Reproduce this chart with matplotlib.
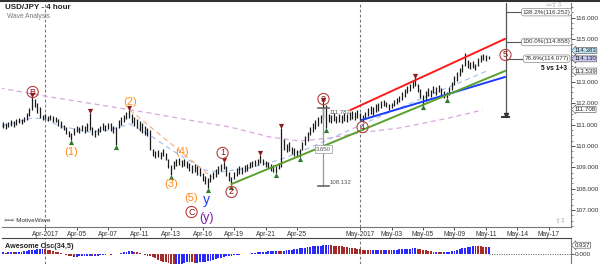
import numpy as np
import matplotlib
matplotlib.use("Agg")
from matplotlib import pyplot as plt

plt.rcParams['font.family'] = ['Liberation Sans', 'DejaVu Sans']

# USD/JPY 4h bars, 6 bars per trading day, day 0 = Apr-03
highs = [
    111.15, 111.10, 111.05, 111.12, 111.20, 111.18, 111.25, 111.30, 111.28, 111.35,
    111.55, 111.75, 112.29, 112.20, 112.00, 111.80, 111.45, 111.50, 111.40, 111.45,
    111.40, 111.35, 111.25, 111.15, 111.00, 110.90, 110.70, 110.60, 110.85, 110.95,
    110.90, 111.00, 110.95, 111.05, 111.54, 110.90, 110.75, 110.85, 110.95, 111.05,
    111.00, 111.08, 111.05, 110.95, 110.90, 111.20, 111.35, 111.45, 111.60, 111.68,
    111.50, 111.35, 111.25, 111.15, 111.05, 110.95, 110.85, 110.75, 109.85, 109.75,
    109.80, 109.70, 109.85, 109.65, 109.40, 109.10, 109.30, 109.40, 109.45, 109.35,
    109.40, 109.30, 109.20, 109.10, 109.15, 109.05, 108.95, 108.75, 108.60, 108.50,
    108.70, 108.80, 108.90, 109.05, 109.15, 109.25, 109.05, 108.80, 108.55, 108.80,
    108.95, 109.05, 109.00, 109.10, 109.15, 109.25, 109.30, 109.35, 109.40, 109.58,
    109.40, 109.30, 109.25, 109.15, 109.10, 109.05, 109.20, 110.84, 110.30, 110.10,
    110.20, 109.95, 109.90, 109.80, 109.85, 110.20, 110.45, 110.65, 110.90, 111.05,
    111.20, 111.35, 111.45, 112.06, 111.90, 111.50, 111.45, 111.55, 111.40, 111.50,
    111.45, 111.55, 111.50, 111.60, 111.65, 111.60, 111.70, 111.55, 111.45, 111.60,
    111.75, 111.85, 111.80, 111.95, 112.00, 112.10, 112.15, 112.05, 111.95, 112.00,
    112.15, 112.25, 112.35, 112.50, 112.65, 112.80, 112.90, 113.05, 113.22, 112.90,
    112.65, 112.40, 112.55, 112.70, 112.60, 112.80, 112.75, 112.85, 112.70, 112.55,
    112.50, 112.75, 113.00, 113.25, 113.45, 113.65, 113.85, 114.34, 114.00, 113.90,
    113.95, 113.85, 114.10, 114.25, 114.30, 114.25, 114.20,
]
lows = [
    110.90, 110.85, 110.80, 110.88, 110.95, 110.90, 111.00, 111.05, 111.02, 111.10,
    111.20, 111.40, 111.70, 111.80, 111.55, 111.30, 111.20, 111.25, 111.15, 111.20,
    111.12, 111.10, 110.95, 110.85, 110.75, 110.55, 110.40, 110.28, 110.50, 110.65,
    110.60, 110.70, 110.62, 110.70, 110.75, 110.50, 110.40, 110.50, 110.65, 110.75,
    110.70, 110.78, 110.70, 110.62, 110.05, 110.85, 111.00, 111.10, 111.25, 111.30,
    111.05, 110.95, 110.85, 110.70, 110.60, 110.50, 110.45, 109.81, 109.55, 109.45,
    109.50, 109.40, 109.55, 109.35, 108.95, 108.64, 108.90, 109.05, 109.10, 109.00,
    109.05, 108.95, 108.85, 108.75, 108.80, 108.65, 108.60, 108.35, 108.20, 108.04,
    108.30, 108.45, 108.55, 108.70, 108.85, 108.90, 108.60, 108.35, 108.18, 108.45,
    108.60, 108.70, 108.68, 108.80, 108.85, 108.95, 109.00, 109.05, 109.10, 109.20,
    109.10, 109.00, 108.95, 108.85, 108.80, 108.74, 108.90, 109.00, 109.80, 109.70,
    109.75, 109.60, 109.55, 109.50, 109.49, 109.80, 110.05, 110.25, 110.50, 110.65,
    110.80, 110.95, 111.05, 111.30, 110.84, 111.10, 111.05, 111.15, 111.05, 111.12,
    111.08, 111.15, 111.10, 111.20, 111.25, 111.20, 111.30, 111.20, 111.12, 111.25,
    111.40, 111.50, 111.45, 111.60, 111.65, 111.75, 111.85, 111.80, 111.70, 111.75,
    111.85, 111.95, 112.05, 112.15, 112.30, 112.45, 112.55, 112.70, 112.80, 112.50,
    112.25, 111.92, 112.10, 112.35, 112.30, 112.45, 112.40, 112.50, 112.35, 112.25,
    112.24, 112.40, 112.60, 112.85, 113.05, 113.25, 113.45, 113.75, 113.65, 113.60,
    113.65, 113.55, 113.75, 113.90, 114.00, 113.95, 114.05,
]
# Awesome Oscillator (34,5)
ao = [
    0.15, 0.2, 0.15, 0.2, 0.25, 0.2, 0.25, 0.3,
    0.3, 0.35, 0.4, 0.45, 0.5, 0.55, 0.6, 0.62, 0.65, 0.63,
    0.55, 0.45, 0.4, 0.3, 0.2,
    0.1, 0.0, -0.1, -0.2, -0.3, -0.35,
    -0.35, -0.3, -0.3, -0.25, -0.2, -0.2, -0.25, -0.2,
    -0.2, -0.15, -0.1, -0.1, -0.05, -0.1, -0.05, 0.0, 0.05,
    0.15, 0.25, 0.3, 0.35,
    0.35, 0.3, 0.2, 0.1,
    0.0, -0.1, -0.2, -0.3,
    -0.4, -0.55, -0.7, -0.85, -0.95, -1.05, -1.15, -1.25, -1.3, -1.3,
    -1.25, -1.2, -1.1, -1.0, -1.0,
    -1.05, -1.1, -1.1, -1.05, -1.0, -0.95, -0.9, -0.85,
    -0.75, -0.65, -0.55, -0.45, -0.35, -0.3, -0.25, -0.2, -0.15,
    -0.1, -0.1, -0.05, -0.05, 0.0, 0.05,
    0.1, 0.15, 0.2, 0.25, 0.3, 0.3, 0.35, 0.35, 0.4, 0.4,
    0.38, 0.35, 0.35,
    0.45, 0.5, 0.55, 0.6, 0.65, 0.7, 0.75, 0.8, 0.85, 0.9,
    0.95, 1.0, 1.02, 1.05,
    1.08, 1.1, 1.1, 1.08, 1.05, 1.0, 0.98, 0.95, 0.9,
    0.85, 0.8, 0.75, 0.7, 0.65, 0.6, 0.55, 0.5, 0.48, 0.45,
    0.45, 0.48, 0.5, 0.48, 0.5, 0.52, 0.5, 0.52, 0.55, 0.55, 0.58,
    0.6, 0.62, 0.65, 0.68, 0.7, 0.72,
    0.65, 0.58, 0.5, 0.45, 0.4, 0.35, 0.3, 0.3, 0.28, 0.25,
    0.25, 0.28, 0.3, 0.35, 0.4,
    0.5, 0.6, 0.7, 0.8, 0.85, 0.9, 0.95, 0.98,
    0.97, 0.95, 0.93, 0.92, 0.937,
]

tick_days = [0, 2, 4, 6, 8, 10, 12, 14, 16, 20, 22, 24, 26, 28, 30, 32]
tick_labels = ["Apr-2017", "Apr-05", "Apr-07", "Apr-11", "Apr-13", "Apr-16", "Apr-19",
               "Apr-21", "Apr-25", "May-2017", "May-03", "May-05", "May-09", "May-11",
               "May-14", "May-17"]
month_days = [0, 20]
price_ticks = [107, 108, 109, 110, 111, 112, 113, 114, 115, 116]
price_labels = ["107.000", "108.000", "109.000", "110.000", "111.000", "112.000", "113.000",
                "", "115.000", "116.000"]

peak_bars = [13, 35, 50, 86, 100, 108, 124, 159]
trough_bars = [28, 45, 66, 80, 89, 106, 115, 125, 162, 171]

# moving averages / trend lines (day, price)
ma_fast_x = [-2.76, -0.79, -0.03, 0.92, 2.83, 4.10, 5.37, 6.63, 8.22, 10.13, 11.08, 12.98, 14.89, 16.79, 22.51, 28.22]
ma_fast_y = [110.93, 111.31, 111.26, 110.93, 110.65, 110.75, 111.03, 110.51, 109.72, 108.88, 108.78, 108.97, 109.35, 109.91, 111.78, 113.55]
ma_slow_x = [-2.89, 0.29, 3.46, 6.63, 9.81, 11.71, 14.25, 16.16, 18.06, 19.97, 22.51, 25.68, 27.78]
ma_slow_y = [112.71, 112.29, 111.92, 111.54, 111.12, 110.89, 110.42, 110.23, 110.37, 110.61, 110.84, 111.31, 111.68]
wave4_line = ([5.37, 10.57], [111.68, 108.55])
red_line = ([19.4, 29.2], [111.68, 115.0])
blue_line = ([20.1, 29.2], [111.21, 113.22])
green_line = ([11.84, 29.2], [108.22, 113.50])

fib_day = 29.24
fib_span = (116.75, 111.35)
fib_levels = [116.252, 114.858, 114.077]
fib_names = ["138.2%", "100.0%", "78.6%"]
ruler_day = 17.68
ruler_span = (111.782, 108.132)

bar_days = -3 + np.arange(1, len(highs) + 1) / 6.0
highs = np.array(highs)
lows = np.array(lows)

fig = plt.figure(figsize=(6, 2.64), dpi=100)
ax = fig.add_axes([2 / 600, 1 - 227 / 264, 569 / 600, 224 / 264])
ax2 = fig.add_axes([2 / 600, 0.0, 569 / 600, 26 / 264])

ax.set_xlim(-2.74, 33.4)
ax.set_ylim(106.21, 116.68)

for d in month_days:
    ax.axvline(d, color="#777777", lw=0.8, ls=(0, (2.5, 2)), zorder=1)
    ax2.axvline(d, color="#777777", lw=0.8, ls=(0, (2.5, 2)), zorder=1)

ax.plot(ma_slow_x, ma_slow_y, color="#dba6dd", lw=0.9, ls=(0, (4, 3)), zorder=2)
ax.plot(ma_fast_x, ma_fast_y, color="#aac4f2", lw=0.9, ls=(0, (4, 3)), zorder=2)
ax.plot(*wave4_line, color="#f7b486", lw=0.9, ls=(0, (4, 3)), zorder=2)

ax.vlines(bar_days, lows, highs, color="#1a1a1a", lw=0.9, zorder=3)

ax.plot(*red_line, color="#ff1a1a", lw=1.4, zorder=4)
ax.plot(*blue_line, color="#1a3cff", lw=1.4, zorder=4)
ax.plot(*green_line, color="#5aa02c", lw=1.4, zorder=4)

pk = np.array(peak_bars) - 1
tr = np.array(trough_bars) - 1
ax.scatter(bar_days[pk], highs[pk] + 0.07, marker="v", s=14, color="#8b1a1a", zorder=5, lw=0)
ax.scatter(bar_days[tr], lows[tr] - 0.08, marker="^", s=14, color="#2e7d32", zorder=5, lw=0)

# fib projection
ax.plot([fib_day, fib_day], fib_span, color="#555555", lw=0.9, zorder=4)
ax.plot([fib_day - 0.25, fib_day + 0.25], [fib_span[1]] * 2, color="#333333", lw=1.4, zorder=4)
ax.plot([fib_day - 0.25, fib_day + 0.25], [fib_span[0]] * 2, color="#333333", lw=1.4, zorder=4)
ax.scatter([fib_day], [fib_span[1] + 0.08], marker="v", s=8, color="#333333", zorder=5)
for lvl, nm in zip(fib_levels, fib_names):
    ax.plot([fib_day, fib_day + 1.4], [lvl, lvl], color="#555555", lw=0.8, zorder=4)
    ax.text(31.85, lvl, f"{nm}({lvl:.3f})", fontsize=4.5, color="#333333", ha="center", va="center",
            zorder=6, bbox=dict(boxstyle="round,pad=0.2,rounding_size=0.4", fc="white", ec="#888888", lw=0.5))

# ruler
ax.plot([ruler_day, ruler_day], ruler_span, color="#999999", lw=0.9, zorder=4)
ax.plot([ruler_day - 0.35, ruler_day + 0.35], [ruler_span[0]] * 2, color="#666666", lw=1.2, zorder=4)
ax.plot([ruler_day - 0.35, ruler_day + 0.35], [ruler_span[1]] * 2, color="#666666", lw=1.2, zorder=4)
ax.text(ruler_day + 0.4, ruler_span[0] - 0.2, f"{ruler_span[0]:.3f}", fontsize=4.3, color="#555555", va="center")
ax.text(ruler_day + 0.4, ruler_span[1] + 0.15, f"{ruler_span[1]:.3f}", fontsize=4.3, color="#555555", va="center")
ax.text(ruler_day, 109.85, f"{ruler_span[0] - ruler_span[1]:.3f}", fontsize=4.3, color="#555555",
        ha="center", va="center", zorder=6,
        bbox=dict(boxstyle="square,pad=0.2", fc="white", ec="#999999", lw=0.5))

# wave labels
orange = "#ff8c1a"
for txt, x, y in [("(1)", 1.62, 109.72), ("(2)", 5.37, 112.06), ("(3)", 8.03, 108.22),
                  ("(4)", 8.67, 109.72), ("(5)", 9.3, 107.57)]:
    ax.text(x, y, txt, fontsize=8, color=orange, ha="center", va="center", zorder=6)

circ = dict(boxstyle="circle,pad=0.12", fc="none", ec="#b5423f", lw=0.8)
for txt, x, y in [("B", -0.79, 112.52), ("C", 9.3, 106.91), ("1", 11.27, 109.67),
                  ("2", 11.84, 107.85), ("3", 17.68, 112.19), ("4", 20.16, 110.88),
                  ("5", 29.24, 114.25)]:
    ax.text(x, y, txt, fontsize=6.5, color="#8b1a1a", ha="center", va="center", zorder=6, bbox=circ)
ax.text(10.25, 107.48, "y", fontsize=10, color="#1a3cff", ha="center", va="center", zorder=6)
ax.text(10.25, 106.64, "(y)", fontsize=9, color="#7b1fa2", ha="center", va="center", zorder=6)
ax.text(32.35, 113.64, "5 vs 1+3", fontsize=4.8, color="#111111", ha="center", va="center",
        fontweight="bold", zorder=6)

# price axis
ax.yaxis.tick_right()
ax.set_yticks(price_ticks)
ax.set_yticklabels(price_labels)
ax.set_yticks(np.arange(106.25, 116.7, 0.25), minor=True)
ax.tick_params(axis="y", which="major", labelsize=4.6, length=3, width=0.6, colors="#333333", pad=0.5)
ax.tick_params(axis="y", which="minor", length=1.5, width=0.5, colors="#555555")
ax.set_xticks(tick_days)
ax.set_xticklabels(tick_labels)
ax.tick_params(axis="x", labelsize=4.8, length=2, width=0.6, colors="#333333", pad=1)
for s in ["top", "left"]:
    ax.spines[s].set_visible(False)
for s in ["right", "bottom"]:
    ax.spines[s].set_color("#777777")
    ax.spines[s].set_linewidth(0.8)

for val, y, fc in [("114.383", 114.46, "#bfe6f5"), ("114.130", 114.07, "#c9c9f5"),
                   ("113.539", 113.50, "white"), ("111.708", 111.708, "white")]:
    ax.text(33.62, y, val, fontsize=4.4, color="#222222", va="center", ha="left", zorder=10, clip_on=False,
            bbox=dict(boxstyle="larrow,pad=0.08", fc=fc, ec="#666666", lw=0.5))

# oscillator
ao = np.array(ao)
ao_cols = ["#2a2aff" if i == 0 or ao[i] >= ao[i - 1] else "#a52a2a" for i in range(len(ao))]
ax2.bar(bar_days, ao, width=0.12, color=ao_cols, zorder=3)
ax2.plot([bar_days[-1], 33.4], [0, 0], color="#555555", lw=0.7, ls=(0, (1, 1.5)), zorder=2)
ax2.set_xlim(ax.get_xlim())
ax2.set_ylim(-1.25, 2.0)
ax2.set_xticks([])
ax2.yaxis.tick_right()
ax2.set_yticks([0])
ax2.set_yticklabels(["0.000"])
ax2.tick_params(axis="y", labelsize=4.6, length=2.5, width=0.6, colors="#333333", pad=0.5)
ax2.spines["left"].set_visible(False)
ax2.spines["bottom"].set_visible(False)
ax2.spines["top"].set_color("#444444")
ax2.spines["right"].set_color("#777777")
ax2.text(0.006, 0.68, "Awesome Osc(34,5)", transform=ax2.transAxes, fontsize=5.2,
         fontweight="bold", color="#222222", va="center")
ax2.text(33.62, 1.1, "0.937", fontsize=4.4, color="#222222", va="center", ha="left", clip_on=False,
         bbox=dict(boxstyle="larrow,pad=0.08", fc="white", ec="#666666", lw=0.5))

# header and watermark
fig.text(5 / 600, 1 - 7.5 / 264, "USD/JPY - 4 hour", fontsize=5.8, fontweight="bold", color="#222222", va="center")
fig.text(7 / 600, 1 - 16.5 / 264, "Wave Analysis", fontsize=4.8, color="#777777", va="center")
fig.text(4 / 600, 1 - 221 / 264, "\u21e6\u21e8 MotiveWave", fontsize=4.5, color="#333333", va="center")
fig.text(546 / 600, 1 - 5.5 / 264, "\u21e6\u21e7\u21e9", fontsize=5, color="#aaaaaa", va="center")
fig.text(555 / 600, 1 - 221 / 264, "\u21e7\u21e9", fontsize=5, color="#aaaaaa", va="center")
fig.add_artist(plt.Line2D([0, 1], [0.996, 0.996], transform=fig.transFigure, color="#333333", lw=1.5))

fig.savefig("out.png", dpi=100)
